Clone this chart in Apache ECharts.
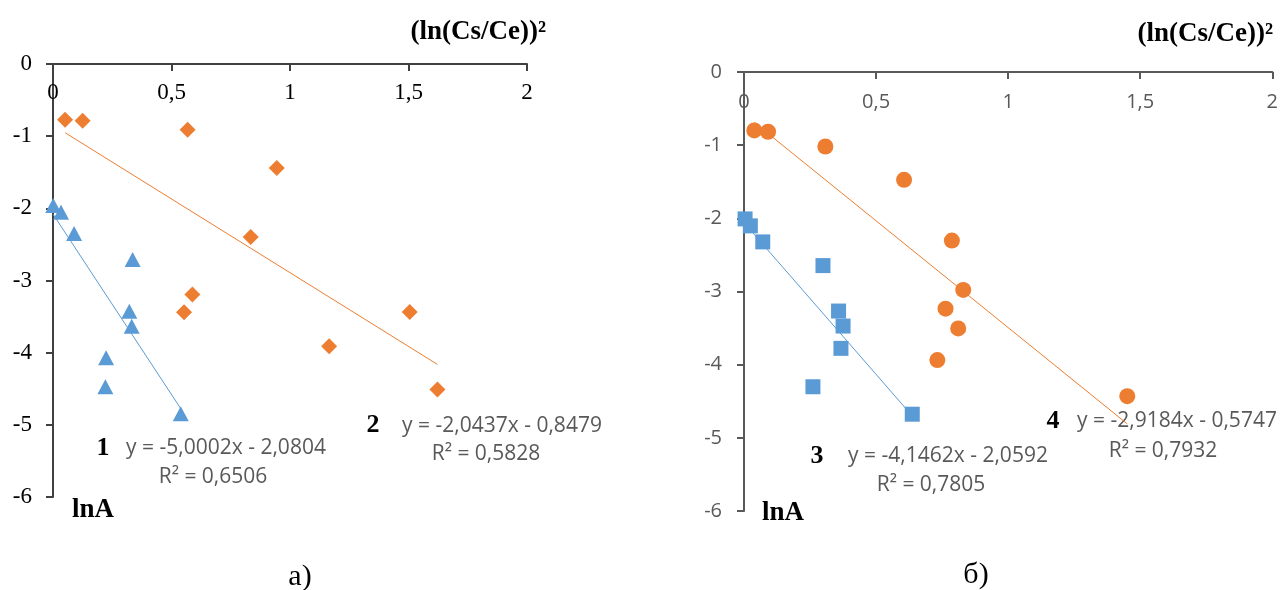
<!DOCTYPE html>
<html>
<head>
<meta charset="utf-8">
<script src="https://cdn.jsdelivr.net/npm/echarts@6/dist/echarts.min.js"></script>
<style>
  html, body { margin: 0; padding: 0; background: #ffffff; }
  #chart { width: 1281px; height: 590px; }
</style>
</head>
<body>
<div id="chart"></div>
<script>
// Panel а): series 1 (triangles) and 2 (diamonds)
const x1 = [0.001, 0.034, 0.089, 0.336, 0.322, 0.332, 0.224, 0.221, 0.539];
const y1 = [-1.96, -2.055, -2.35, -2.71, -3.427, -3.634, -4.072, -4.474, -4.848];
const x2 = [0.051, 0.125, 0.568, 0.944, 0.834, 0.588, 0.553, 1.165, 1.505, 1.622];
const y2 = [-0.771, -0.785, -0.910, -1.440, -2.396, -3.195, -3.440, -3.911, -3.435, -4.511];

// Panel б): series 3 (squares) and 4 (circles)
const x3 = [0.004, 0.024, 0.071, 0.299, 0.358, 0.375, 0.367, 0.261, 0.637];
const y3 = [-2.008, -2.103, -2.322, -2.646, -3.267, -3.472, -3.777, -4.302, -4.677];
const x4 = [0.039, 0.091, 0.308, 0.606, 0.787, 0.830, 0.763, 0.811, 0.732, 1.451];
const y4 = [-0.799, -0.817, -1.018, -1.474, -2.304, -2.979, -3.235, -3.504, -3.937, -4.430];

// Linear trend coefficients (slope, intercept) and R²
const slopes = [-5.0002, -2.0437, -4.1462, -2.9184];
const intercepts = [-2.0804, -0.8479, -2.0592, -0.5747];
const r2 = ['0,6506', '0,5828', '0,7805', '0,7932'];
const seriesNames = ['1', '2', '3', '4'];

// Text
const xTitle = '(ln(Cs/Ce))²';
const yTitle = 'lnA';
const captions = ['а)', 'б)'];

const BLUE = '#5B9BD5';
const ORANGE = '#ED7D31';
const comma = v => String(v).replace('.', ',');

function pts(xs, ys) { return xs.map((x, i) => [x, ys[i]]); }
function trend(xs, k) {
  const lo = Math.min(...xs), hi = Math.max(...xs);
  return [[lo, slopes[k] * lo + intercepts[k]], [hi, slopes[k] * hi + intercepts[k]]];
}
function eqText(k) {
  const b = intercepts[k];
  return 'y = ' + comma(slopes[k].toFixed(4)) + 'x ' + (b < 0 ? '- ' : '+ ') + comma(Math.abs(b).toFixed(4));
}

const serifTick = { fontFamily: 'Liberation Serif', fontSize: 23, color: '#000000' };
const sansTick = { fontFamily: 'Open Sans', fontSize: 20, color: '#595959' };

function xAxisCfg(grid, lab, axisColor, margin) {
  return {
    type: 'value', gridIndex: grid, position: 'top', min: 0, max: 2, interval: 0.5,
    axisLine: { show: true, onZero: false, lineStyle: { color: axisColor, width: 2 } },
    axisTick: { show: true, inside: true, length: 7, lineStyle: { color: axisColor, width: 2 } },
    axisLabel: Object.assign({ inside: true, margin: margin, formatter: comma }, lab),
    splitLine: { show: false }
  };
}
function yAxisCfg(grid, lab, axisColor, margin) {
  return {
    type: 'value', gridIndex: grid, min: -6, max: 0, interval: 1,
    axisLine: { show: true, onZero: false, lineStyle: { color: axisColor, width: 2 } },
    axisTick: { show: true, length: 7, lineStyle: { color: axisColor, width: 2 } },
    axisLabel: Object.assign({ margin: margin, formatter: comma }, lab),
    splitLine: { show: false }
  };
}

function scatter(name, data, xi, color, symbol, size) {
  return { name, type: 'scatter', xAxisIndex: xi, yAxisIndex: xi, data, symbol, symbolSize: size,
    itemStyle: { color, opacity: 1 }, z: 3 };
}
function line(data, xi, color) {
  return { type: 'line', xAxisIndex: xi, yAxisIndex: xi, data, symbol: 'none', silent: true,
    lineStyle: { color, width: 1 }, z: 4 };
}

function txt(text, x, y, font, fill, align) {
  return { type: 'text', x, y, silent: true,
    style: { text, font, fill, align: align || 'center', verticalAlign: 'middle' } };
}
const EQ_FONT = '21px "Open Sans"';
const TITLE_FONT = 'bold 27px "Liberation Serif"';
const NUM_FONT = 'bold 26px "Liberation Serif"';
const CAP_FONT = '30px "Liberation Serif"';
const GRAY = '#595959';

const option = {
  animation: false,
  backgroundColor: '#ffffff',
  grid: [
    { left: 53, top: 64, width: 474, height: 433 },
    { left: 744, top: 72, width: 529, height: 439 }
  ],
  xAxis: [xAxisCfg(0, serifTick, '#404040', 17), xAxisCfg(1, sansTick, '#595959', 20)],
  yAxis: [yAxisCfg(0, serifTick, '#404040', 21), yAxisCfg(1, sansTick, '#595959', 22)],
  series: [
    scatter(seriesNames[0], pts(x1, y1), 0, BLUE, 'triangle', [16, 15]),
    scatter(seriesNames[1], pts(x2, y2), 0, ORANGE, 'diamond', [16, 16]),
    scatter(seriesNames[2], pts(x3, y3), 1, BLUE, 'rect', [15, 15]),
    scatter(seriesNames[3], pts(x4, y4), 1, ORANGE, 'circle', 16),
    line(trend(x1, 0), 0, BLUE),
    line(trend(x2, 1), 0, ORANGE),
    line(trend(x3, 2), 1, BLUE),
    line(trend(x4, 3), 1, ORANGE)
  ],
  graphic: [
    // axis titles
    txt(xTitle, 546, 32, TITLE_FONT, '#000', 'right'),
    txt(xTitle, 1273, 34, TITLE_FONT, '#000', 'right'),
    txt(yTitle, 93, 510, TITLE_FONT, '#000'),
    txt(yTitle, 783, 513, TITLE_FONT, '#000'),
    // series numbers
    txt(seriesNames[0], 103, 448, NUM_FONT, '#000'),
    txt(seriesNames[1], 373, 425, NUM_FONT, '#000'),
    txt(seriesNames[2], 817, 456, NUM_FONT, '#000'),
    txt(seriesNames[3], 1053, 421, NUM_FONT, '#000'),
    // trend equations
    txt(eqText(0), 226, 448, EQ_FONT, GRAY),
    txt('R² = ' + r2[0], 213, 477, EQ_FONT, GRAY),
    txt(eqText(1), 502, 426, EQ_FONT, GRAY),
    txt('R² = ' + r2[1], 486, 454, EQ_FONT, GRAY),
    txt(eqText(2), 948, 456, EQ_FONT, GRAY),
    txt('R² = ' + r2[2], 931, 485, EQ_FONT, GRAY),
    txt(eqText(3), 1177, 421, EQ_FONT, GRAY),
    txt('R² = ' + r2[3], 1163, 451, EQ_FONT, GRAY),
    // panel captions
    txt(captions[0], 300, 577, CAP_FONT, '#000'),
    txt(captions[1], 976, 575, CAP_FONT, '#000')
  ]
};

const chart = echarts.init(document.getElementById('chart'), null, { renderer: 'canvas' });
chart.setOption(option);
</script>
</body>
</html>
